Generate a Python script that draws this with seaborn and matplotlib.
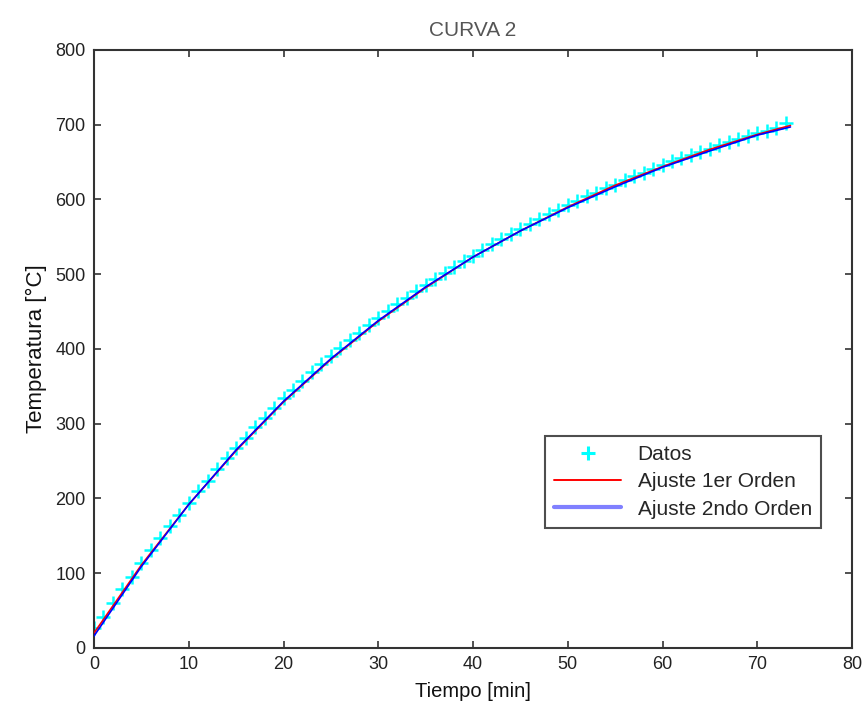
import matplotlib
matplotlib.use("Agg")
import matplotlib.pyplot as plt
import seaborn as sns
import pandas as pd
from matplotlib.lines import Line2D

# ---- data ----
t_data = list(range(0, 74))
temp_data = [27, 42, 60, 79, 95, 114, 131, 147, 163, 178, 194, 210, 224, 240, 254,
             268, 281, 295, 308, 321, 334, 345, 357, 369, 380, 391, 401, 412, 422,
             432, 441, 451, 460, 468, 477, 486, 494, 502, 510, 518, 525, 533, 540,
             547, 554, 561, 567, 574, 580, 586, 592, 598, 604, 609, 615, 620, 626,
             631, 636, 641, 646, 651, 655, 660, 664, 668, 673, 677, 681, 685, 689,
             692, 696, 702]
t_fit = [0, 5, 10, 15, 20, 25, 30, 35, 40, 45, 50, 55, 60, 65, 70, 73.5]
fit1 = [20, 111, 192, 264, 329, 386, 437, 482, 523, 558, 590, 619, 644, 667, 687, 699]
fit2 = [16, 109, 192, 265, 330, 387, 438, 483, 523, 558, 589, 617, 643, 665, 686, 697]

title = "CURVA 2"
xlabel = "Tiempo [min]"
ylabel = "Temperatura [°C]"
labels = ["Datos", "Ajuste 1er Orden", "Ajuste 2ndo Orden"]

sns.set_theme(style="white")
plt.rcParams["font.family"] = ["Liberation Sans", "DejaVu Sans"]

fig = plt.figure(figsize=(8.68, 7.19), dpi=100)
ax = fig.add_axes([0.1083, 0.0988, 0.8733, 0.8317])

df_d = pd.DataFrame({"t": t_data, "T": temp_data})
df_f = pd.DataFrame({"t": t_fit, "f1": fit1, "f2": fit2})

sns.scatterplot(data=df_d, x="t", y="T", marker="+", s=110, color="#00ffff",
                linewidth=1.8, ax=ax, legend=False, zorder=2)
sns.lineplot(data=df_f, x="t", y="f1", color="#ff0000", linewidth=1.2, ax=ax,
             legend=False, zorder=3)
sns.lineplot(data=df_f, x="t", y="f2", color="#0000ff", linewidth=1.2, ax=ax,
             legend=False, zorder=4)

ax.set_xlim(0, 80)
ax.set_ylim(0, 800)
ax.set_xticks(range(0, 81, 10))
ax.set_yticks(range(0, 801, 100))
ax.tick_params(direction="in", length=5, width=1.2, colors="#333333",
               labelcolor="#222222", labelsize=13, top=True, right=True,
               bottom=True, left=True, pad=6)
for sp in ax.spines.values():
    sp.set_visible(True)
    sp.set_color("#333333")
    sp.set_linewidth(1.5)

ax.set_title(title, fontsize=15, color="#555555", pad=10)
ax.set_xlabel(xlabel, fontsize=14.5, color="#111111", labelpad=6)
ax.set_ylabel(ylabel, fontsize=16, color="#111111", labelpad=6)

handles = [
    Line2D([], [], marker="+", linestyle="none", color="#00ffff", markersize=10,
           markeredgewidth=2.2),
    Line2D([], [], color="#ff0000", linewidth=1.4),
    Line2D([], [], color="#8080ff", linewidth=3),
]
leg = ax.legend(handles, labels, loc="upper left", bbox_to_anchor=(0.595, 0.355),
                fontsize=15, frameon=True, fancybox=False, shadow=False,
                borderpad=0.45, handlelength=3.2, handletextpad=0.8,
                labelspacing=0.4, borderaxespad=0)
leg.get_frame().set_edgecolor("#222222")
leg.get_frame().set_linewidth(1.5)

fig.savefig("out.png", dpi=100)
